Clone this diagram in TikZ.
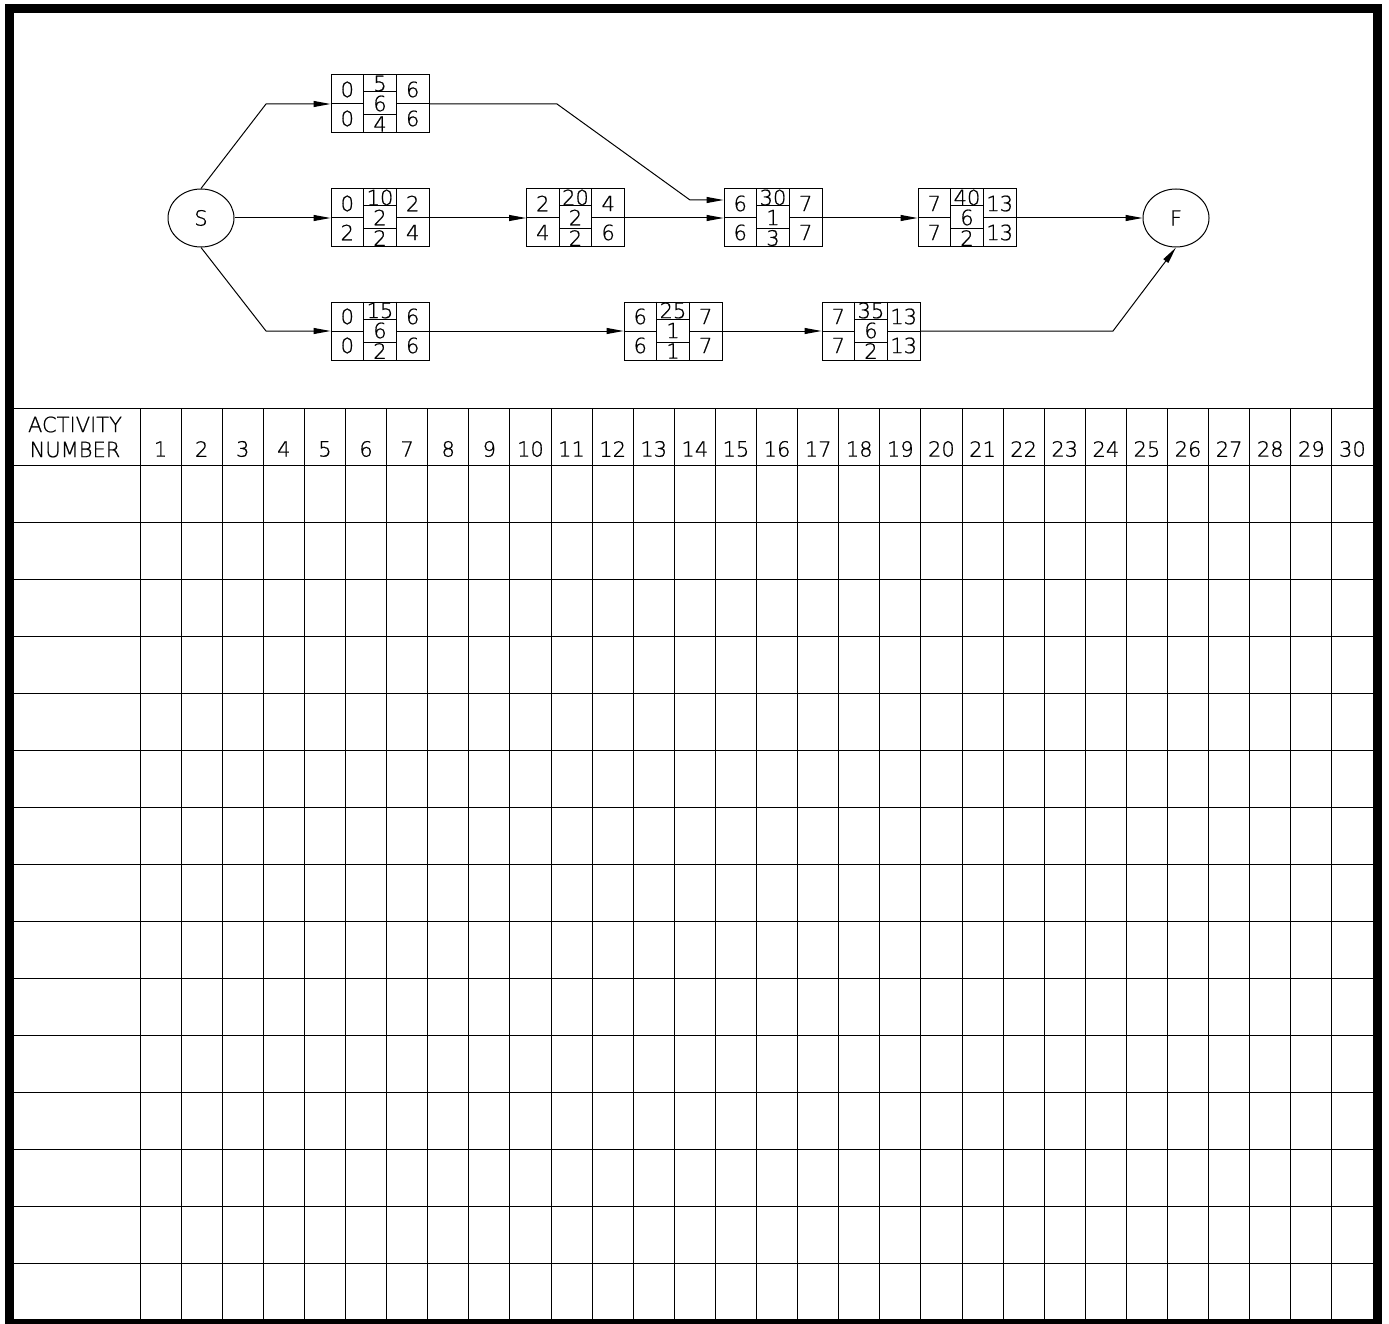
\documentclass[tikz,border=0pt]{standalone}
\usepackage{fontspec}
\setmainfont{DejaVu Sans}[UprightFont={* ExtraLight}, FakeBold=0.8]
\usetikzlibrary{arrows.meta,shapes.geometric,calc}
\tikzset{
  font=\fontsize{21}{24}\selectfont,
  act/.style   ={draw, rectangle, minimum width=98, minimum height=58, inner sep=0pt, line width=1pt},
  evt/.style   ={draw, ellipse, minimum width=66, minimum height=58, inner sep=0pt, line width=1pt},
  num/.style   ={inner sep=0pt},
  arr/.style   ={-{Triangle[length=17pt,width=6pt]}, line width=1pt},
  frame/.style ={line width=9pt},
  gridline/.style={line width=1pt},
}
% activity box: name, position, ES, EF, id, duration, float, LS, LF
\newcommand{\actbox}[9]{%
  \node[act] (#1) at (#2) {};
  \draw[line width=1pt] ($(#1.north)+(-16.33,0)$) -- ($(#1.south)+(-16.33,0)$)
                        ($(#1.north)+(16.33,0)$) -- ($(#1.south)+(16.33,0)$)
                        (#1.west) -- ($(#1.center)+(-16.33,0)$)
                        ($(#1.center)+(16.33,0)$) -- (#1.east)
                        ($(#1.center)+(-16.33,-12)$) -- ($(#1.center)+(16.33,-12)$)
                        ($(#1.center)+(-16.33,11)$) -- ($(#1.center)+(16.33,11)$);
  \node[num] at ($(#1.center)+(-32.7,-14.5)$) {#3};
  \node[num] at ($(#1.center)+(32.7,-14.5)$)  {#4};
  \node[num] at ($(#1.center)+(0,-20.5)$)     {#5};
  \node[num] at ($(#1.center)+(0,-0.5)$)      {#6};
  \node[num] at ($(#1.center)+(0,20)$)        {#7};
  \node[num] at ($(#1.center)+(-32.7,14.5)$)  {#8};
  \node[num] at ($(#1.center)+(32.7,14.5)$)   {#9};
}

\begin{document}
\begin{tikzpicture}[x=1pt,y=-1pt]
  \useasboundingbox (0,0) rectangle (1389,1324);
  \draw[frame] (9.5,8.5) rectangle (1377.5,1323.5);

  % network
  \node[evt] (S) at (201,218) {S};
  \node[evt] (F) at (1176,218) {F};
  \actbox{a5}{380,104}{0}{6}{5}{6}{4}{0}{6}
  \actbox{a10}{380,218}{0}{2}{10}{2}{2}{2}{4}
  \actbox{a15}{380,331}{0}{6}{15}{6}{2}{0}{6}
  \actbox{a20}{575.5,218}{2}{4}{20}{2}{2}{4}{6}
  \actbox{a25}{673,331}{6}{7}{25}{1}{1}{6}{7}
  \actbox{a30}{773,218}{6}{7}{30}{1}{3}{6}{7}
  \actbox{a35}{871,331}{7}{13}{35}{6}{2}{7}{13}
  \actbox{a40}{967,218}{7}{13}{40}{6}{2}{7}{13}

  \coordinate (k5)  at (266,104);
  \coordinate (k15) at (266,331);
  \coordinate (k30a) at (557,104);
  \coordinate (k30b) at (690,200);
  \coordinate (kF)  at (1113,331);

  \draw[arr] (S.north) -- (k5) -- (a5.west);
  \draw[arr] (S.east) -- (a10.west);
  \draw[arr] (S.south) -- (k15) -- (a15.west);
  \draw[arr] (a10.east) -- (a20.west);
  \draw[arr] (a20.east) -- (a30.west);
  \draw[arr] (a5.east) -- (k30a) -- (k30b) -- (a30.west |- k30b);
  \draw[arr] (a30.east) -- (a40.west);
  \draw[arr] (a40.east) -- (F.west);
  \draw[arr] (a15.east) -- (a25.west);
  \draw[arr] (a25.east) -- (a35.west);
  \draw[arr] (a35.east) -- (kF) -- (F.south);

  % time chart
  \draw[gridline] (14,408) -- (1373,408);
  \foreach \r in {0,...,15}
    \draw[gridline] (14,465+57*\r) -- (1373,465+57*\r);
  \foreach \c in {0,...,29}
    \draw[gridline] (140+41.1*\c,408) -- (140+41.1*\c,1319);
  \node[num, align=center, font=\fontsize{21}{25}\selectfont] (hdr) at (75,437) {ACTIVITY\\NUMBER};
  \foreach \c in {1,...,30}
    \node[num] (t\c) at (140+41.1*\c-20.55,449) {\c};
\end{tikzpicture}
\end{document}
